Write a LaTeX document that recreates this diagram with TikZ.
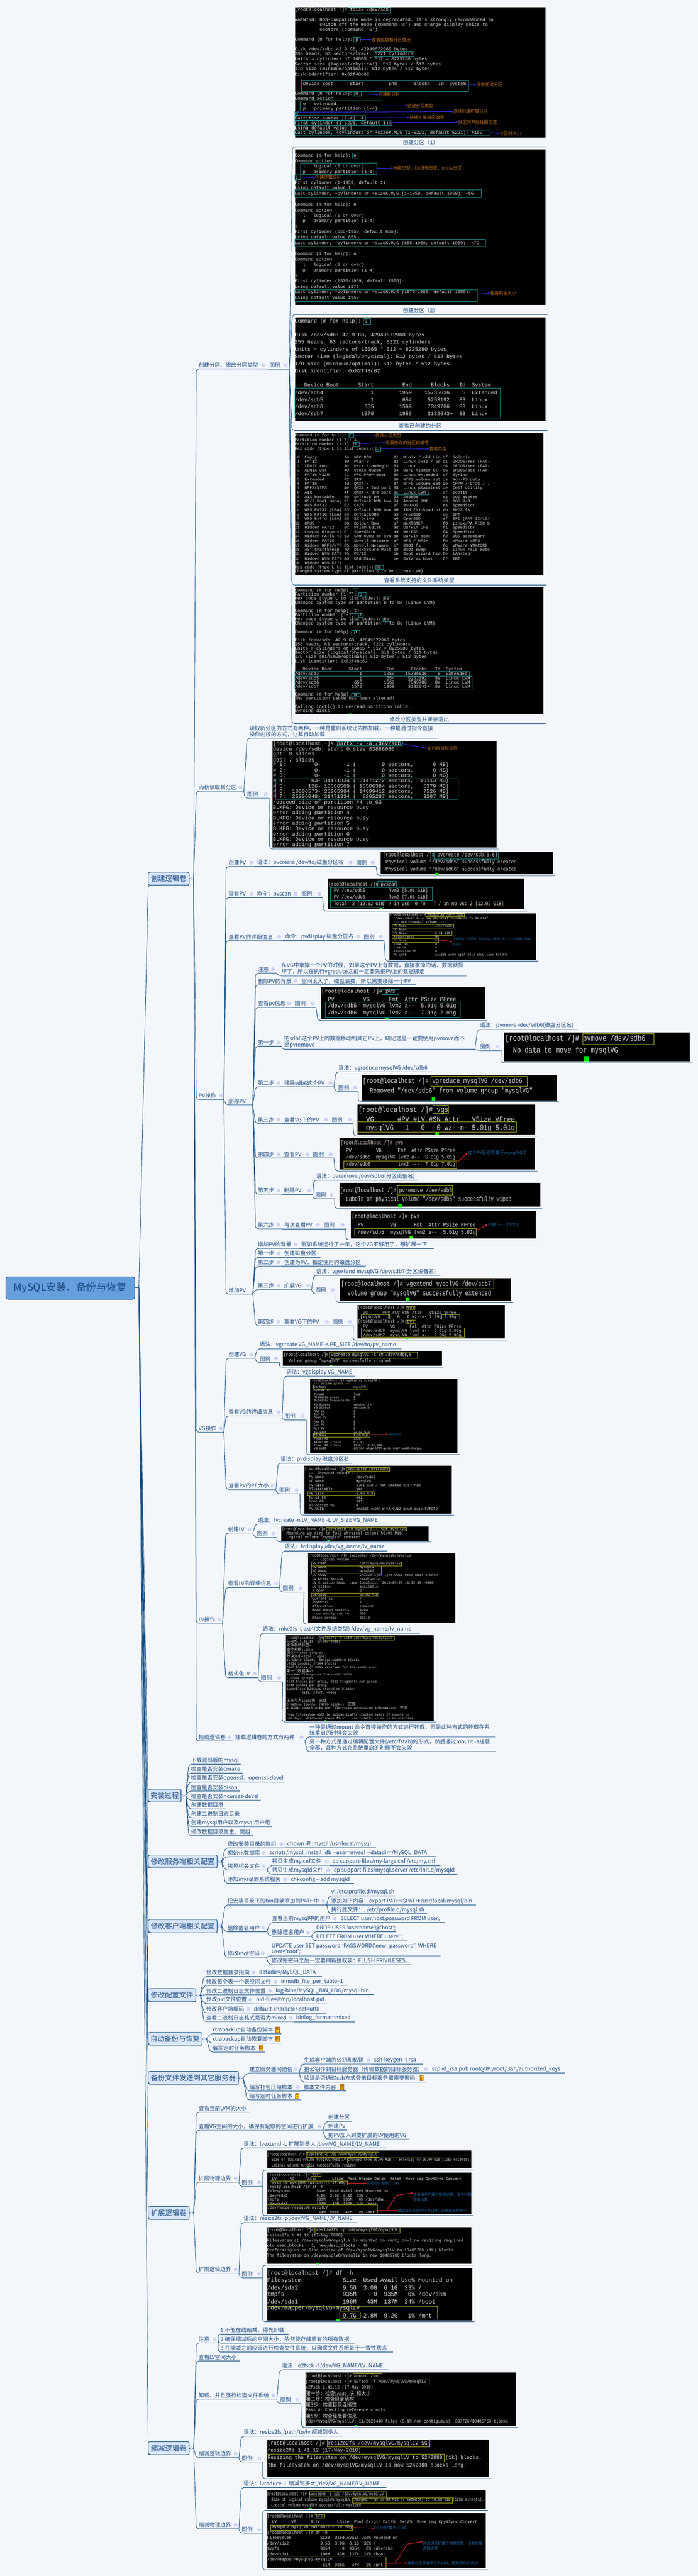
\documentclass[tikz,border=0pt]{standalone}
\usepackage{fontspec}
\usetikzlibrary{arrows.meta,calc}
\setmonofont{Liberation Mono}
\newfontfamily\tpfont{Noto Sans CJK SC}
\newfontfamily\zhfont[Scale=1.2]{Noto Sans CJK SC}
\definecolor{bgc}{HTML}{F3F6FB}
\definecolor{tc}{HTML}{1C4B82}
\definecolor{lnc}{HTML}{0F4C81}
\definecolor{rootf}{HTML}{659FDD}
\definecolor{lvf}{HTML}{D7E5F8}
\definecolor{termt}{HTML}{DADADA}
\definecolor{tealb}{HTML}{1A8F8F}
\definecolor{yelb}{HTML}{A8A820}
\definecolor{orl}{HTML}{C8761C}
\definecolor{bll}{HTML}{1F6FB5}
\definecolor{bar}{HTML}{3030E8}
\definecolor{rar}{HTML}{E02828}
\tikzset{
 zone/.style 2 args={x=0.59694pt,y=#1,yshift=#2},
 tptext/.style={anchor=west,inner sep=0pt,text=tc,font=\tpfont\fontsize{7.25}{8}\selectfont},
 tpmulti/.style={anchor=south west,inner sep=0pt,align=left,text=tc,font=\tpfont\fontsize{7.25}{8}\selectfont},
 captext/.style={inner sep=0pt,text=tc,font=\tpfont\fontsize{7.25}{8}\selectfont},
 link/.style={draw=lnc,line width=0.6pt,rounded corners=4pt},
 tline/.style={anchor=west,inner sep=0pt,text=termt,transform shape},
 tb/.style={draw=tealb,line width=0.55pt},
 yb/.style={draw=yelb,line width=0.55pt},
 annot/.style={anchor=west,inner sep=0pt,align=left},
 anno/.style={line width=0.7pt,-{Stealth[length=3pt,width=3pt]}},
 icondraw/.style={draw=black!0!blue!35!white,fill=lvf,line width=0.3pt},
 lvbox/.style={draw=lnc,fill=lvf,line width=0.6pt,rounded corners=2pt},
 lvtext/.style={inner sep=0pt,text=tc,font=\tpfont\fontsize{9.5}{11}\selectfont},
}
\newcount\tln
\newcount\nid
\newcommand\zz[1]{{\zhfont #1}}
\newcommand\tset[5]{\def\tX{#1}\def\tY{#2}\def\tD{#3}\pgfmathsetmacro\tXS{#4/#5}\def\tF{#5}\tln=0 }
\newcommand\TS{\advance\tln 1 }
\newcommand\TL{\begingroup\catcode`\ =12 \catcode`\#=12 \catcode`\%=12 \catcode`\_=12 \catcode`\&=12 \catcode`\^=12 \catcode`\$=12 \catcode`\~=12 \TLi}
\newcommand\TLi[1]{\endgroup\global\advance\nid 1 \path ({\tX},{\tY+\the\tln*\tD}) node[tline,xscale=\tXS,font=\ttfamily\fontsize{\tF}{\tF}\selectfont] (n\the\nid) {#1};\advance\tln 1 }
% topic: name x1 x2 y text
\newcommand\tp[5]{\coordinate (#1-l) at (#2,#4);\coordinate (#1-r) at (#3,#4);\path (#2,#4) ++(3pt,5.2pt) node[tptext] (#1) {#5};}
\newcommand\tpi[5]{\tp{#1}{#2}{#3}{#4}{#5}\draw[icondraw] (#3,#4) ++(-4.5pt,5.2pt) circle (2.1pt) ++(-1.2pt,0) -- ++(2.4pt,0);}
\newcommand\tpm[5]{\coordinate (#1-l) at (#2,#4);\coordinate (#1-r) at (#3,#4);\path (#2,#4) ++(3pt,1.6pt) node[tpmulti] (#1) {#5};}
\newcommand\note[2]{\fill[yellow!60!orange,draw=orange!70!black,line width=0.3pt] (#1,#2) ++(-2.4pt,-3.6pt) rectangle ++(4.8pt,7.2pt);\draw[orange!60!black,line width=0.3pt] (#1,#2) ++(-1.4pt,1.8pt) -- ++(2.8pt,0) ++(-2.8pt,-1.6pt) -- ++(2.8pt,0) ++(-2.8pt,-1.6pt) -- ++(2.8pt,0);}
% terminal image: name x1 y1 x2 y2 ux1 ux2 uy
\newcommand\tm[8]{\filldraw[fill=black,draw=white,line width=0.5pt] (#2,#3) rectangle (#4,#5);\coordinate (#1-l) at (#6,#8);\coordinate (#1-r) at (#7,#8);}
\newcommand\bx[5]{\draw[#1] (#2,#3) rectangle (#4,#5);}
\newcommand\cur[4]{\fill[green!90!black] (#1,#2) rectangle (#3,#4);}
% annotation: line colour, text colour, (start), (label), font size, text
\newcommand\ann[6]{\global\advance\nid 1 \coordinate (s\the\nid) at #3;\node[annot,text=#2,font=\tpfont\fontsize{#5}{7}\selectfont] (e\the\nid) at #4 {#6};\draw[anno,#1] (s\the\nid) -- (e\the\nid.west);}
% level one box: name x1 y1 x2 y2 text xtext
\newcommand\lv[6]{\draw[lvbox] (#2,#3) rectangle (#4,#5);\node[lvtext] (#1) at ($(#2,#3)!.5!(#4,#5)$) {#6};\coordinate (#1-l) at (#2,#5);\coordinate (#1-e) at (#4,#5);\coordinate (#1-m) at ($(#4,#3)!.5!(#4,#5)$);\coordinate (#1-r) at ($(#1-m)+(6pt,0)$);\draw[draw=lnc,line width=0.5pt] (#1-m) -- (#1-r);\draw[icondraw] ($(#1-m)+(3pt,0)$) circle (1.8pt);}
\newcommand\lk[2]{\draw[link] (#1-r) -- (#2-l) -- (#2-r);}
\newcommand\ch[2]{\draw[link] (#1-r) -- (#2-r);}
\newcommand\lkr[1]{\draw[link] (root-r) -- (#1-l) -- (#1-e);}
\begin{document}
\begin{tikzpicture}
\fill[bgc] (0,0) rectangle (936pt,-3454.5pt);
\useasboundingbox (0,0) rectangle (936pt,-3454.5pt);
%================ ZONE 1
\begin{scope}[zone={-0.36671pt}{0pt}]
\tpi{a1}{441}{600}{1349}{创建分区、修改分区类型}
\tpi{a1b}{600}{650}{1349}{图例}
\tm{i1}{662}{26}{1226}{503}{657}{1230}{537}
\tset{662}{37}{18}{6.17}{6.17}
\TL{[root@localhost ~]# fdisk /dev/sdb}\TS
\TL{WARNING: DOS-compatible mode is deprecated. It's strongly recommended to}
\TL{         switch off the mode (command 'c') and change display units to}
\TL{         sectors (command 'u').}\TS
\TL{Command (m for help): p}\TS
\TL{Disk /dev/sdb: 42.9 GB, 42949672960 bytes}
\TL{255 heads, 63 sectors/track, 5221 cylinders}
\TL{Units = cylinders of 16065 * 512 = 8225280 bytes}
\TL{Sector size (logical/physical): 512 bytes / 512 bytes}
\TL{I/O size (minimum/optimal): 512 bytes / 512 bytes}
\TL{Disk identifier: 0x82f48c62}\TS
\TL{   Device Boot      Start         End      Blocks   Id  System}\TS
\TL{Command (m for help): n}
\TL{Command action}
\TL{   e   extended}
\TL{   p   primary partition (1-4)}
\TL{e}
\TL{Partition number (1-4): 4}
\TL{First cylinder (1-5221, default 1):}
\TL{Using default value 1}
\TL{Last cylinder, +cylinders or +size{K,M,G} (1-5221, default 5221): +15G}
\bx{tb}{782}{27}{877}{47}\bx{tb}{794}{136}{810}{154}\bx{tb}{840}{187}{930}{207}\bx{tb}{678}{294}{1053}{335}\bx{tb}{796}{335}{812}{352}\bx{tb}{674}{368}{858}{405}\bx{tb}{662}{406}{670}{421}\bx{tb}{662}{423}{821}{440}\bx{tb}{662}{441}{880}{458}\bx{tb}{662}{476}{1101}{495}
\ann{bar}{orl}{(810,145)}{(835,145)}{5.8}{查看磁盘和分区情况}
\ann{bar}{orl}{(1053,308)}{(1070,309)}{5.8}{没有任何分区}
\ann{bar}{orl}{(812,343)}{(850,346)}{5.8}{创建新分区}
\ann{bar}{orl}{(858,387)}{(915,387)}{5.8}{创建分区类型}
\ann{bar}{orl}{(670,410)}{(1018,408)}{5.8}{选择创建扩展分区}
\ann{bar}{orl}{(821,431)}{(920,430)}{5.8}{选择扩展分区编号}
\ann{bar}{orl}{(880,448)}{(1029,447)}{5.8}{分区的开始柱面位置}
\ann{bar}{orl}{(1101,485)}{(1122,488)}{5.8}{分区的大小}
\node[captext] (c1) at (945,521) {创建分区（1）};
\tm{i2}{662}{545}{1226}{1116}{657}{1231}{1150}
\tset{662}{569}{20}{5.97}{5.97}
\TL{Command (m for help): n}
\TL{Command action}
\TL{   l   logical (5 or over)}
\TL{   p   primary partition (1-4)}
\TL{l}
\TL{First cylinder (1-1959, default 1):}
\TL{Using default value 1}
\TL{Last cylinder, +cylinders or +size{K,M,G} (1-1959, default 1959): +5G}\TS
\TL{Command (m for help): n}
\TL{Command action}
\TL{   l   logical (5 or over)}
\TL{   p   primary partition (1-4)}
\TL{l}
\TL{First cylinder (655-1959, default 655):}
\TL{Using default value 655}
\TL{Last cylinder, +cylinders or +size{K,M,G} (655-1959, default 1959): +7G}\TS
\TL{Command (m for help): n}
\TL{Command action}
\TL{   l   logical (5 or over)}
\TL{   p   primary partition (1-4)}
\TL{l}
\TL{First cylinder (1570-1959, default 1570):}
\TL{Using default value 1570}
\TL{Last cylinder, +cylinders or +size{K,M,G} (1570-1959, default 1959):}
\TL{Using default value 1959}
\bx{tb}{792}{560}{805}{579}\bx{tb}{675}{597}{847}{638}\bx{tb}{662}{640}{675}{657}\bx{tb}{662}{695}{1082}{722}\bx{tb}{662}{875}{1091}{902}\bx{tb}{662}{1060}{1072}{1103}
\ann{bar}{orl}{(847,615)}{(883,616)}{5.8}{分区类型，l为逻辑分区，p为主分区}
\ann{bar}{orl}{(675,648)}{(708,649)}{5.8}{创建逻辑分区}
\ann{bar}{orl}{(1072,1075)}{(1101,1073)}{5.8}{使用剩余大小}
\node[captext] (c2) at (945,1135) {创建分区（2）};
\tm{i3}{662}{1159}{1226}{1540}{656}{1230}{1574}
\tset{662}{1175}{26}{7.07}{7.07}
\TL{Command (m for help): p}\TS
\TL{Disk /dev/sdb: 42.9 GB, 42949672960 bytes}
\TL{255 heads, 63 sectors/track, 5221 cylinders}
\TL{Units = cylinders of 16065 * 512 = 8225280 bytes}
\TL{Sector size (logical/physical): 512 bytes / 512 bytes}
\TL{I/O size (minimum/optimal): 512 bytes / 512 bytes}
\TL{Disk identifier: 0x82f48c62}\TS
\TL{   Device Boot      Start         End      Blocks   Id  System}
\TL{/dev/sdb4               1        1959    15735636    5  Extended}
\TL{/dev/sdb5               1         654     5253192   83  Linux}
\TL{/dev/sdb6             655        1569     7349706   83  Linux}
\TL{/dev/sdb7            1570        1959     3132643+  83  Linux}
\bx{tb}{816}{1166}{833}{1185}\bx{tb}{662}{1420}{1124}{1528}
\node[captext] (c3) at (944,1558) {查看已创建的分区};
\end{scope}
%================ ZONE 2
\begin{scope}[zone={-0.36671pt}{-575pt}]
\tm{i4}{662}{15}{1222}{537}{656}{1228}{571}
\tset{662}{25}{16.06}{5.52}{5.52}
\TL{Command (m for help): t}
\TL{Partition number (1-7): 1}
\TL{Partition number (1-7): 5}
\TL{Hex code (type L to list codes): L}\TS
\TL{ 0  Empty           24  NEC DOS         81  Minix / old Lin bf  Solaris}
\TL{ 1  FAT12           39  Plan 9          82  Linux swap / So c1  DRDOS/sec (FAT-}
\TL{ 2  XENIX root      3c  PartitionMagic  83  Linux           c4  DRDOS/sec (FAT-}
\TL{ 3  XENIX usr       40  Venix 80286     84  OS/2 hidden C:  c6  DRDOS/sec (FAT-}
\TL{ 4  FAT16 <32M      41  PPC PReP Boot   85  Linux extended  c7  Syrinx}
\TL{ 5  Extended        42  SFS             86  NTFS volume set da  Non-FS data}
\TL{ 6  FAT16           4d  QNX4.x          87  NTFS volume set db  CP/M / CTOS / .}
\TL{ 7  HPFS/NTFS       4e  QNX4.x 2nd part 88  Linux plaintext de  Dell Utility}
\TL{ 8  AIX             4f  QNX4.x 3rd part 8e  Linux LVM       df  BootIt}
\TL{ 9  AIX bootable    50  OnTrack DM      93  Amoeba          e1  DOS access}
\TL{ a  OS/2 Boot Manag 51  OnTrack DM6 Aux 94  Amoeba BBT      e3  DOS R/O}
\TL{ b  W95 FAT32       52  CP/M            9f  BSD/OS          e4  SpeedStor}
\TL{ c  W95 FAT32 (LBA) 53  OnTrack DM6 Aux a0  IBM Thinkpad hi eb  BeOS fs}
\TL{ e  W95 FAT16 (LBA) 54  OnTrackDM6      a5  FreeBSD         ee  GPT}
\TL{ f  W95 Ext'd (LBA) 55  EZ-Drive        a6  OpenBSD         ef  EFI (FAT-12/16/}
\TL{10  OPUS            56  Golden Bow      a7  NeXTSTEP        f0  Linux/PA-RISC b}
\TL{11  Hidden FAT12    5c  Priam Edisk     a8  Darwin UFS      f1  SpeedStor}
\TL{12  Compaq diagnost 61  SpeedStor       a9  NetBSD          f4  SpeedStor}
\TL{14  Hidden FAT16 <3 63  GNU HURD or Sys ab  Darwin boot     f2  DOS secondary}
\TL{16  Hidden FAT16    64  Novell Netware  af  HFS / HFS+      fb  VMware VMFS}
\TL{17  Hidden HPFS/NTF 65  Novell Netware  b7  BSDI fs         fc  VMware VMKCORE}
\TL{18  AST SmartSleep  70  DiskSecure Mult b8  BSDI swap       fd  Linux raid auto}
\TL{1b  Hidden W95 FAT3 75  PC/IX           bb  Boot Wizard hid fe  LANstep}
\TL{1c  Hidden W95 FAT3 80  Old Minix       be  Solaris boot    ff  BBT}
\TL{1e  Hidden W95 FAT1}
\TL{Hex code (type L to list codes): 8e}
\TL{Changed system type of partition 5 to 8e (Linux LVM)}
\bx{tb}{784}{18}{794}{33}\bx{tb}{795}{50}{807}{65}\bx{tb}{844}{66}{856}{81}\bx{tb}{885}{226}{963}{242}\bx{tb}{844}{500}{862}{514}
\ann{bar}{orl}{(794,24)}{(843,24)}{5.8}{修改分区类型}
\ann{bar}{orl}{(807,54)}{(866,51)}{5.8}{需要修改的分区的编号}
\ann{bar}{orl}{(856,72)}{(964,74)}{5.8}{查看类型}
\node[captext] (c4) at (942,555) {查看系统支持的文件系统类型};
\tm{i5}{662}{578}{1222}{1044}{656}{1226}{1078}
\tset{662}{591}{15.25}{6.03}{6.03}
\TL{Command (m for help): t}
\TL{Partition number (1-7): 6}
\TL{Hex code (type L to list codes): 8e}
\TL{Changed system type of partition 6 to 8e (Linux LVM)}\TS
\TL{Command (m for help): t}
\TL{Partition number (1-7): 7}
\TL{Hex code (type L to list codes): 8e}
\TL{Changed system type of partition 7 to 8e (Linux LVM)}\TS
\TL{Command (m for help): p}\TS
\TL{Disk /dev/sdb: 42.9 GB, 42949672960 bytes}
\TL{255 heads, 63 sectors/track, 5221 cylinders}
\TL{Units = cylinders of 16065 * 512 = 8225280 bytes}
\TL{Sector size (logical/physical): 512 bytes / 512 bytes}
\TL{I/O size (minimum/optimal): 512 bytes / 512 bytes}
\TL{Disk identifier: 0x82f48c62}\TS
\TL{   Device Boot      Start         End      Blocks   Id  System}
\TL{/dev/sdb4               1        1959    15735636    5  Extended}
\TL{/dev/sdb5               1         654     5253192   8e  Linux LVM}
\TL{/dev/sdb6             655        1569     7349706   8e  Linux LVM}
\TL{/dev/sdb7            1570        1959     3132643+  8e  Linux LVM}\TS
\TL{Command (m for help): w}
\TL{The partition table has been altered!}\TS
\TL{Calling ioctl() to re-read partition table.}
\TL{Syncing disks.}
\bx{tb}{793}{585}{805}{598}\bx{tb}{806}{600}{822}{614}\bx{tb}{862}{614}{878}{629}\bx{tb}{793}{660}{805}{674}\bx{tb}{806}{676}{816}{690}\bx{tb}{860}{691}{878}{705}\bx{tb}{790}{736}{808}{754}\bx{tb}{662}{888}{1055}{904}\bx{tb}{662}{905}{1061}{952}\bx{tb}{790}{966}{810}{980}
\cur{782}{1041}{790}{1044}
\node[captext] (c5) at (942,1063) {修改分区类型并保存退出};
\end{scope}
%================ ZONE 3
\begin{scope}[zone={-0.36671pt}{-975pt}]
\lv{b1}{333}{531}{425}{578}{创建逻辑卷}
\tpi{a2}{441}{548}{235}{内核读取新分区}
\tpm{a2a}{555}{983}{41}{读取新分区的方式有两种，一种是重启系统让内核加载，一种是通过指令直接\\操作内核的方式，让其自动加载}
\tpi{a2b}{550}{605}{260}{图例}
\tm{i6}{611}{49}{1116}{442}{606}{1120}{446}
\tset{613}{61}{19.5}{7.15}{7.15}
\TL{[root@localhost ~]# partx -v -a /dev/sdb}
\TL{device /dev/sdb: start 0 size 83886080}
\TL{gpt: 0 slices}
\TL{dos: 7 slices}
\TL{# 1:         0-       -1 (        0 sectors,      0 MB)}
\TL{# 2:         0-       -1 (        0 sectors,      0 MB)}
\TL{# 3:         0-       -1 (        0 sectors,      0 MB)}
\TL{# 4:        63- 31471334 ( 31471272 sectors,  16113 MB)}
\TL{# 5:       126- 10506509 ( 10506384 sectors,   5379 MB)}
\TL{# 6:  10506573- 25205984 ( 14699412 sectors,   7526 MB)}
\TL{# 7:  25206048- 31471334 (  6265287 sectors,   3207 MB)}
\TL{reduced size of partition #4 to 63}
\TL{BLKPG: Device or resource busy}
\TL{error adding partition 4}
\TL{BLKPG: Device or resource busy}
\TL{error adding partition 5}
\TL{BLKPG: Device or resource busy}
\TL{error adding partition 6}
\TL{BLKPG: Device or resource busy}
\TL{error adding partition 7}
\bx{tb}{755}{53}{904}{69}\bx{tb}{620}{188}{1029}{265}
\ann{bar}{orl}{(905,61)}{(960,77)}{5.8}{让内核读取分区}
\tpi{a3}{441}{503}{1362}{PV操作}
\tpi{p1}{508}{572}{510}{创建PV}
\tpi{p1a}{572}{795}{510}{语法：pvcreate /dev/to/磁盘分区名}
\tpi{p1b}{795}{845}{510}{图例}
\tm{ip1}{855}{454}{1243}{540}{848}{1247}{544}
\tset{860}{468}{26}{6.1}{7.5}
\TL{[root@localhost /]# pvcreate /dev/sdb[5,6]}
\TL{ Physical volume "/dev/sdb5" successfully created}
\TL{ Physical volume "/dev/sdb6" successfully created}
\bx{tb}{975}{457}{1120}{482}\cur{978}{533}{985}{540}
\tpi{p2}{508}{572}{624}{查看PV}
\tpi{p2a}{572}{672}{624}{命令：pvscan}
\tpi{p2b}{672}{725}{624}{图例}
\tm{ip2}{735}{553}{1179}{667}{727}{1184}{673}
\tset{738}{575}{24}{5.85}{7}
\TL{[root@localhost /]# pvscan}
\TL{  PV /dev/sdb5         lvm2 [5.01 GiB]}
\TL{  PV /dev/sdb6         lvm2 [7.01 GiB]}
\TL{  Total: 2 [12.02 GiB] / in use: 0 [0   ] / in no VG: 2 [12.02 GiB]}
\bx{tb}{849}{563}{890}{587}\bx{tb}{742}{587}{971}{633}\bx{tb}{742}{635}{862}{659}\cur{853}{660}{859}{667}
\tpi{p3}{508}{635}{781}{查看PV的详细信息}
\tpi{p3a}{635}{812}{781}{命令：pvdisplay 磁盘分区名}
\tpi{p3b}{812}{863}{781}{图例}
\tm{ip3}{874}{680}{1205}{852}{866}{1210}{856}
\tset{875}{688}{13.2}{4.24}{4.24}
\TL{[root@localhost /]# pvdisplay /dev/sdb5}
\TL{  "/dev/sdb5" is a new physical volume of "5.01 GiB"}
\TL{  --- NEW Physical volume ---}
\TL{  PV Name               /dev/sdb5}
\TL{  VG Name}
\TL{  PV Size               5.01 GiB}
\TL{  Allocatable           NO}
\TL{  PE Size               0}
\TL{  Total PE              0}
\TL{  Free PE               0}
\TL{  Allocated PE          0}
\TL{  PV UUID               znaBd5-evkU-ojtA-9JiZ-bNwU-sxak-F2fDFD}
\bx{yb}{957}{682}{1043}{694}\bx{yb}{881}{721}{1019}{735}\bx{yb}{881}{747}{1015}{761}\bx{yb}{881}{773}{985}{787}
\ann{rar}{bll}{(985,778)}{(1017,785)}{3.8}{只有把PV（物理卷）加入到VG（卷组）中，它才知道自己的PE\\有多大}
\tp{p4}{508}{568}{1382}{删除PV}
\tpi{d1}{574}{621}{900}{注意}
\tpm{d1a}{627}{1050}{910}{从VG中拿掉一个PV的时候，如果这个PV上有数据，直接拿掉的话，数据就损\\坏了，所以在执行vgreduce之前一定要先把PV上的数据挪走}
\tpi{d2}{574}{672}{943}{删除PV的背景}
\tp{d2a}{672}{935}{943}{空间太大了，磁盘浪费，所以需要移除一个PV}
\tpi{d3}{574}{657}{1025}{查看pv信息}
\tpi{d3b}{657}{710}{1025}{图例}
\tm{id3}{720}{950}{1091}{1069}{714}{1095}{1073}
\tset{722}{968}{26.3}{7.17}{7.8}
\TL{[root@localhost /]# pvs}
\TL{  PV         VG      Fmt  Attr PSize PFree}
\TL{  /dev/sdb5  mysqlVG lvm2 a--  5.01g 5.01g}
\TL{  /dev/sdb6  mysqlVG lvm2 a--  7.01g 7.01g}
\bx{tb}{858}{959}{896}{979}\bx{tb}{731}{1007}{1034}{1061}\cur{866}{1063}{873}{1069}
\tpi{d4}{574}{633}{1167}{第一步}
\tpm{d4a}{633}{1067}{1178}{把sdb6这个PV上的数据移动到其它PV上，切记这里一定要使用pvmove而不\\是pvremove}
\tp{d4b}{1073}{1298}{1106}{语法：pvmove /dev/sdb6(磁盘分区名)}
\tpi{d4c}{1073}{1126}{1183}{图例}
\tm{id4}{1131}{1116}{1550}{1223}{1125}{1555}{1228}
\tset{1135}{1140}{43}{8.7}{11}
\TL{[root@localhost /]# pvmove /dev/sdb6}
\TL{  No data to move for mysqlVG}
\bx{yb}{1310}{1122}{1469}{1160}\cur{1313}{1204}{1323}{1223}
\tpi{d5}{574}{633}{1316}{第二步}
\tpi{d5a}{633}{750}{1316}{移除sdb6这个PV}
\tp{d5b}{755}{970}{1261}{语法：vgreduce mysqlVG /dev/sdb6}
\tpi{d5c}{755}{805}{1333}{图例}
\tm{id5}{813}{1272}{1251}{1366}{805}{1255}{1370}
\tset{815}{1295}{37}{7.75}{9.5}
\TL{[root@localhost /]# vgreduce mysqlVG /dev/sdb6}
\TL{  Removed "/dev/sdb6" from volume group "mysqlVG"}
\bx{yb}{968}{1277}{1184}{1313}\cur{970}{1352}{978}{1366}
\tpi{d6}{574}{633}{1450}{第三步}
\tpi{d6a}{633}{740}{1450}{查看VG下的PV}
\tpi{d6b}{740}{793}{1450}{图例}
\tm{id6}{803}{1379}{1203}{1490}{795}{1207}{1496}
\tset{805}{1400}{33}{8.75}{10}
\TL{[root@localhost /]# vgs}
\TL{  VG      #PV #LV #SN Attr   VSize VFree}
\TL{  mysqlVG   1   0   0 wz--n- 5.01g 5.01g}
\bx{yb}{973}{1384}{1007}{1414}\bx{yb}{801}{1444}{1160}{1482}\cur{978}{1483}{986}{1490}
\end{scope}
%================ ZONE 4
\begin{scope}[zone={-0.31888pt}{-1525pt}]
\draw[draw=lnc,fill=rootf,line width=0.6pt,rounded corners=3pt] (13,587) rectangle (303,682);
\node[inner sep=0pt,text=tc,font=\tpfont\fontsize{13.5}{15}\selectfont] (root) at (158,634) {MySQL安装、备份与恢复};
\coordinate (root-m) at (303,634);\coordinate (root-r) at (312,634);
\draw[draw=lnc,line width=0.6pt] (root-m) -- (root-r);
\tpi{d7}{574}{633}{88}{第四步}
\tpi{d7a}{633}{698}{88}{查看PV}
\tpi{d7b}{698}{750}{88}{图例}
\tm{id7}{762}{3}{1202}{137}{753}{1207}{143}
\tset{765}{25}{30.5}{6.1}{7.5}
\TL{[root@localhost /]# pvs}
\TL{  PV         VG      Fmt  Attr PSize PFree}
\TL{  /dev/sdb5  mysqlVG lvm2 a--  5.01g 5.01g}
\TL{  /dev/sdb6          lvm2 ---  7.01g 7.01g}
\bx{yb}{773}{100}{1026}{131}\cur{886}{132}{892}{137}
\ann{rar}{bll}{(1026,108)}{(1050,66)}{6}{这个PV已经不属于mysqlVG了}
\tpi{d8}{574}{633}{240}{第五步}
\tpi{d8a}{633}{703}{240}{删除PV}
\tp{d8b}{705}{940}{181}{语法：pvremove /dev/sdb6(分区设备名)}
\tpi{d8c}{703}{752}{259}{图例}
\tm{id8}{762}{191}{1214}{293}{752}{1218}{299}
\tset{764}{224}{38}{6.6}{9}
\TL{[root@localhost /]# pvremove /dev/sdb6}
\TL{  Labels on physical volume "/dev/sdb6" successfully wiped}
\bx{yb}{893}{204}{1017}{243}\cur{895}{281}{903}{293}
\tpi{d9}{574}{633}{385}{第六步}
\tpi{d9a}{633}{722}{385}{再次查看PV}
\tpi{d9b}{722}{777}{385}{图例}
\tm{id9}{787}{310}{1204}{426}{778}{1209}{432}
\tset{790}{334}{33.5}{6.6}{8}
\TL{[root@localhost /]# pvs}
\TL{  PV         VG      Fmt  Attr PSize PFree}
\TL{  /dev/sdb5  mysqlVG lvm2 a--  5.01g 5.01g}
\bx{yb}{797}{384}{1070}{417}\cur{920}{418}{927}{426}
\ann{rar}{bll}{(1070,392)}{(1095,368)}{6}{只剩下一个PV了}
\tp{p5}{508}{568}{660}{增加PV}
\tpi{e1}{574}{672}{468}{增加PV的背景}
\tp{e1a}{672}{974}{468}{假如系统运行了一年，这个VG不够用了，想扩展一下}
\tpi{e2}{574}{633}{505}{第一步}
\tp{e2a}{633}{720}{505}{创建磁盘分区}
\tpi{e3}{574}{633}{543}{第二步}
\tp{e3a}{633}{822}{543}{创建为PV，指定使用的磁盘分区}
\tpi{e4}{574}{633}{640}{第三步}
\tpi{e4a}{633}{700}{640}{扩展VG}
\tp{e4b}{705}{990}{581}{语法：vgextend mysqlVG /dev/sdb7(分区设备名)}
\tpi{e4c}{703}{755}{659}{图例}
\tm{ie4}{763}{592}{1149}{690}{755}{1153}{696}
\tset{766}{618}{39}{7.3}{9.5}
\TL{[root@localhost /]# vgextend mysqlVG /dev/sdb7}
\TL{  Volume group "mysqlVG" successfully extended}
\bx{yb}{908}{597}{1109}{638}\cur{912}{676}{920}{690}
\tpi{e5}{574}{633}{793}{第四步}
\tpi{e5a}{633}{742}{793}{查看VG下的PV}
\tpi{e5b}{742}{794}{793}{图例}
\tm{ie5}{802}{705}{1135}{848}{793}{1139}{853}
\tset{804}{717}{19.5}{5.5}{5.8}
\TL{[root@localhost /]# vgs}
\TL{  VG      #PV #LV #SN Attr   VSize VFree}
\TL{  mysqlVG   2   0   0 wz--n- 7.99g 7.99g}
\TL{[root@localhost /]# pvs}
\TL{  PV         VG      Fmt  Attr PSize PFree}
\TL{  /dev/sdb5  mysqlVG lvm2 a--  5.01g 5.01g}
\TL{  /dev/sdb7  mysqlVG lvm2 a--  2.98g 2.98g}
\bx{yb}{912}{710}{932}{724}\bx{yb}{812}{746}{875}{765}\bx{yb}{992}{745}{1033}{766}\bx{yb}{911}{769}{934}{782}\bx{yb}{812}{801}{1043}{841}\cur{912}{843}{918}{848}
\tpi{a4}{441}{503}{1241}{VG操作}
\tpi{v1}{508}{572}{930}{创建VG}
\tp{v1a}{578}{902}{890}{语法：vgcreate VG\_NAME -s PE\_SIZE /dev/to/pv\_name}
\tpi{v1b}{578}{628}{948}{图例}
\tm{iv1}{635}{898}{993}{962}{627}{997}{967}
\tset{637}{917}{26}{5.3}{6.5}
\TL{[root@localhost /]# vgcreate mysqlVG -s 8M /dev/sdb{5,6}}
\TL{  Volume group "mysqlVG" successfully created}
\bx{yb}{740}{903}{938}{930}\cur{741}{957}{747}{962}
\tpi{v2}{508}{634}{1172}{查看VG的详细信息}
\tp{v2a}{638}{798}{1005}{语法：vgdisplay VG\_NAME}
\tpi{v2b}{634}{688}{1189}{图例}
\tm{iv2}{696}{1014}{1028}{1330}{688}{1033}{1335}
\tset{697}{1023}{14.4}{4.02}{4.2}
\TL{[root@localhost /]# vgdisplay mysqlVG}
\TL{  --- Volume group ---}
\TL{  VG Name               mysqlVG}
\TL{  System ID}
\TL{  Format                lvm2}
\TL{  Metadata Areas        2}
\TL{  Metadata Sequence No  1}
\TL{  VG Access             read/write}
\TL{  VG Status             resizable}
\TL{  MAX LV                0}
\TL{  Cur LV                0}
\TL{  Open LV               0}
\TL{  Max PV                0}
\TL{  Cur PV                2}
\TL{  Act PV                2}
\TL{  VG Size               12.02 GiB}
\TL{  PE Size               8.00 MiB}
\TL{  Total PE              1538}
\TL{  Alloc PE / Size       0 / 0}
\TL{  Free  PE / Size       1538 / 12.02 GiB}
\TL{  VG UUID               LJffAJ-mAgW-lP5M-pnXq-0mUF-ss9O-tnmJpp}
\bx{yb}{704}{1043}{827}{1060}\bx{yb}{775}{1016}{853}{1030}\bx{yb}{704}{1246}{832}{1261}
\ann{rar}{bll}{(832,1250)}{(872,1250)}{3.8}{默认为4M}
\tpi{v3}{508}{620}{1482}{查看PV的PE大小}
\tp{v3a}{625}{790}{1371}{语法：pvdisplay 磁盘分区名}
\tpi{v3b}{622}{674}{1500}{图例}
\tm{iv3}{683}{1381}{1015}{1585}{675}{1020}{1590}
\tset{684}{1396}{17}{4.8}{5}
\TL{[root@localhost /]# pvdisplay /dev/sdb5}
\TL{  --- Physical volume ---}
\TL{  PV Name               /dev/sdb5}
\TL{  VG Name               mysqlVG}
\TL{  PV Size               5.01 GiB / not usable 2.57 MiB}
\TL{  Allocatable           yes}
\TL{  PE Size               8.00 MiB}
\TL{  Total PE              641}
\TL{  Free PE               641}
\TL{  Allocated PE          0}
\TL{  PV UUID               znaBd5-evkU-ojtA-9JiZ-bNwU-sxak-F2fDFD}
\bx{yb}{778}{1388}{875}{1405}\bx{yb}{692}{1490}{841}{1507}
\end{scope}
%================ ZONE 5
\begin{scope}[zone={-0.31888pt}{-2025pt}]
\tpi{a5}{441}{500}{476}{LV操作}
\tpi{l1}{507}{568}{97}{创建LV}
\tp{l1a}{574}{870}{59}{语法：lvcreate -n LV\_NAME -L LV\_SIZE  VG\_NAME}
\tpi{l1b}{572}{622}{116}{图例}
\tm{il1}{631}{68}{963}{130}{622}{967}{134}
\tset{633}{80}{18.2}{5.15}{5.6}
\TL{[root@localhost /]# lvcreate -n mysqlLV -L 50M mysqlVG}
\TL{  Rounding up size to full physical extent 56.00 MiB}
\TL{  Logical volume "mysqlLV" created}
\bx{yb}{733}{72}{914}{88}\cur{735}{125}{741}{130}
\tpi{l2}{507}{628}{326}{查看LV的详细信息}
\tp{l2a}{634}{870}{172}{语法：lvdisplay /dev/vg\_name/lv\_name}
\tpi{l2b}{630}{683}{345}{图例}
\tm{il2}{691}{181}{1023}{475}{682}{1027}{480}
\tset{692}{193}{16.3}{4.6}{4.8}
\TL{[root@localhost /]# lvdisplay /dev/mysqlVG/mysqlLV}
\TL{  --- Logical volume ---}
\TL{  LV Path                /dev/mysqlVG/mysqlLV}
\TL{  LV Name                mysqlLV}
\TL{  VG Name                mysqlVG}
\TL{  LV UUID                CMJzOW-1j9x-ljAY-UUb2-9zlk-WbzT-5POFkh}
\TL{  LV Write Access        read/write}
\TL{  LV Creation host, time localhost, 2015-05-28 18:35:45 +0800}
\TL{  LV Status              available}
\TL{  # open                 0}
\TL{  LV Size                56.00 MiB}
\TL{  Current LE             7}
\TL{  Segments               1}
\TL{  Allocation             inherit}
\TL{  Read ahead sectors     auto}
\TL{  - currently set to     256}
\TL{  Block device           253:0}
\bx{yb}{699}{217}{902}{234}\bx{yb}{699}{234}{857}{267}\bx{yb}{699}{349}{851}{364}
\tpi{l3}{507}{580}{705}{格式化LV}
\tp{l3a}{585}{943}{518}{语法：mke2fs -t ext4(文件系统类型)  /dev/vg\_name/lv\_name}
\tpi{l3b}{581}{635}{722}{图例}
\tm{il3}{642}{526}{975}{887}{634}{979}{891}
\tset{643}{539}{15.37}{4.3}{4.5}
\TL{[root@localhost /]# mke2fs -t ext4 /dev/mysqlVG/mysqlLV}
\TL{mke2fs 1.41.12 (17-May-2010)}
\TL{\zz{文件系统标签}=}
\TL{\zz{操作系统}:Linux}
\TL{\zz{块大小}=1024 (log=0)}
\TL{\zz{分块大小}=1024 (log=0)}
\TL{Stride=0 blocks, Stripe width=0 blocks}
\TL{14336 inodes, 57344 blocks}
\TL{2867 blocks (5.00%) reserved for the super user}
\TL{\zz{第一个数据块}=1}
\TL{Maximum filesystem blocks=58720256}
\TL{7 block groups}
\TL{8192 blocks per group, 8192 fragments per group}
\TL{2048 inodes per group}
\TL{Superblock backups stored on blocks:}
\TL{        8193, 24577, 40961}\TS
\TL{\zz{正在写入}inode\zz{表}: \zz{完成}}
\TL{Creating journal (4096 blocks): \zz{完成}}
\TL{Writing superblocks and filesystem accounting information: \zz{完成}}\TS
\TL{This filesystem will be automatically checked every 27 mounts or}
\TL{180 days, whichever comes first.  Use tune2fs -c or -i to override.}
\bx{yb}{727}{532}{886}{546}\cur{728}{884}{734}{887}
\tpi{a6}{441}{523}{971}{挂载逻辑卷}
\tpi{a6a}{523}{685}{971}{挂载逻辑卷的方式有两种}
\tpm{a6b}{690}{1112}{954}{一种是通过mount 命令直接操作的方式进行挂载，但是此种方式的挂载在系\\统重启的时候会失效}
\tpm{a6c}{690}{1114}{1016}{另一种方式是通过编辑配置文件(/etc/fstab)的形式，然后通过mount -a挂载\\全部，此种方式在系统重启的时候不会失效}
\lv{b2}{333}{1174}{407}{1228}{安装过程}
\tp{s1}{424}{541}{1069}{下载源码版的mysql}
\tp{s2}{424}{545}{1106}{检查是否安装cmake}
\tp{s3}{424}{640}{1144}{检查是否安装openssl、openssl-devel}
\tp{s4}{424}{539}{1182}{检查是否安装bison}
\tp{s5}{424}{586}{1220}{检查是否安装ncurses-devel}
\tp{s6}{424}{508}{1257}{创建数据目录}
\tp{s7}{424}{545}{1294}{创建二进制日志目录}
\tp{s8}{424}{611}{1332}{创建mysql用户以及mysql用户组}
\tp{s9}{424}{569}{1369}{修改数据目录属主、属组}
\lv{b3}{333}{1451}{488}{1505}{修改服务端相关配置}
\tpi{t1}{506}{640}{1421}{修改安装目录的数组}
\tp{t1a}{640}{845}{1421}{chown -R :mysql /usr/local/mysql}
\tpi{t2}{506}{600}{1458}{初始化数据库}
\tp{t2a}{600}{980}{1458}{scripts/mysql\_install\_db --user=mysql --datadir=/MySQL\_DATA}
\tpi{t3}{506}{600}{1514}{拷贝相关文件}
\tpi{t3a}{606}{742}{1495}{拷贝生成my.cnf文件}
\tp{t3b}{742}{990}{1495}{cp support-files/my-large.cnf /etc/my.cnf}
\tpi{t3c}{606}{745}{1532}{拷贝生成mysqld文件}
\tp{t3d}{745}{1028}{1532}{cp support-files/mysql.server /etc/init.d/mysqld}
\tpi{t4}{506}{648}{1570}{添加mysql到系统服务}
\tp{t4a}{648}{795}{1570}{chkconfig --add mysqld}
\end{scope}
%================ ZONE 6
\begin{scope}[zone={-0.31888pt}{-2500pt}]
\lv{b4}{333}{233}{488}{288}{修改客户端相关配置}
\tpi{u1}{506}{734}{171}{把安装目录下的bin目录添加到PATH中}
\tp{u1a}{739}{890}{133}{vi /etc/profile.d/mysql.sh}
\tp{u1b}{739}{1070}{171}{添加如下内容：export PATH=\$PATH:/usr/local/mysql/bin}
\tp{u1c}{739}{960}{208}{执行此文件：. /etc/profile.d/mysql.sh}
\tpi{u2}{506}{600}{284}{删除匿名用户}
\tpi{u2a}{606}{760}{245}{查看当前mysql中的用户}
\tp{u2b}{760}{1000}{245}{SELECT user,host,password FROM user;}
\tpi{u2c}{606}{700}{303}{删除匿名用户}
\tp{u2d}{705}{890}{284}{DROP USER 'username'@'host';}
\tp{u2e}{705}{915}{322}{DELETE FROM user WHERE user='';}
\tpi{u3}{506}{598}{391}{修改root密码}
\tpm{u3a}{605}{990}{385}{UPDATE user SET password=PASSWORD('new\_password') WHERE\\user='root';}
\tp{u3b}{605}{925}{423}{修改完密码之后一定要刷新授权表：FLUSH PRIVILEGES;}
\lv{b5}{333}{523}{440}{578}{修改配置文件}
\tpi{w1}{458}{577}{472}{修改数据目录指向}
\tp{w1a}{577}{723}{472}{datadir=/MySQL\_DATA}
\tpi{w2}{458}{626}{510}{修改每个表一个表空间文件}
\tp{w2a}{626}{780}{510}{innodb\_file\_per\_table=1}
\tpi{w3}{458}{614}{549}{修改二进制日志文件位置}
\tp{w3a}{614}{840}{549}{log-bin=/MySQL\_BIN\_LOG/mysql-bin}
\tpi{w4}{458}{570}{586}{修改pid文件位置}
\tp{w4a}{570}{735}{586}{pid-file=/tmp/localhost.pid}
\tpi{w5}{458}{565}{625}{修改客户端编码}
\tp{w5a}{565}{733}{625}{default-character-set=utf8}
\tpi{w6}{458}{660}{662}{查看二进制日志格式是否为mixed}
\tp{w6a}{660}{797}{662}{binlog\_format=mixed}
\lv{b6}{333}{707}{454}{761}{自动备份与恢复}
\tp{x1}{472}{632}{713}{xtrabackup自动备份脚本}\note{623}{696}
\tp{x2}{472}{634}{752}{xtrabackup自动恢复脚本}\note{623}{734}
\tp{x3}{472}{596}{790}{编写定时任务脚本}\note{586}{771}
\lv{b7}{333}{871}{536}{925}{备份文件发送到其它服务器}
\tpi{y1}{555}{672}{878}{建立服务器间通信}
\tpi{y1a}{678}{835}{840}{生成客户端的公钥和私钥}
\tp{y1b}{835}{950}{840}{ssh-keygen -t rsa}
\tpi{y1c}{678}{965}{878}{把公钥传到目标服务器（传输数据的目标服务器）}
\tp{y1d}{965}{1270}{878}{scp id\_rsa.pub root@IP:/root/.ssh/authorized\_keys}
\tp{y1e}{678}{957}{916}{验证是否通过ssh方式登录目标服务器需要密码}\note{947}{899}
\tpi{y2}{555}{677}{954}{编写打包压缩脚本}
\tp{y2a}{677}{778}{954}{脚本文件内容}\note{768}{936}
\tp{y3}{555}{677}{991}{编写定时任务脚本}\note{668}{974}
\lv{b8}{333}{1439}{425}{1494}{扩展逻辑卷}
\tp{g1}{441}{560}{1043}{查看当前LVM的大小}
\tpi{g2}{441}{725}{1119}{查看VG空间的大小，确保有足够的空间进行扩展}
\tp{g2a}{732}{790}{1081}{创建分区}
\tp{g2b}{732}{780}{1118}{创建PV}
\tp{g2c}{732}{920}{1156}{把PV加入到要扩展的LV使用的VG}
\tpi{g3}{441}{537}{1337}{扩展物理边界}
\tp{g3a}{542}{868}{1193}{语法：lvextend -L 扩展到多大 /dev/VG\_NAME/LV\_NAME}
\tpi{g3b}{538}{590}{1355}{图例}
\tm{ig3}{600}{1203}{1060}{1279}{590}{1065}{1286}
\tset{601}{1221}{23}{4.38}{5.8}
\TL{[root@localhost /]# lvextend -L 10G /dev/mysqlVG/mysqlLV}
\TL{  Size of logical volume mysqlVG/mysqlLV changed from 56.00 MiB (7 extents) to 10.00 GiB (1280 extents).}
\TL{  Logical volume mysqlLV successfully resized}
\bx{yb}{688}{1210}{851}{1232}\bx{yb}{780}{1235}{991}{1257}\cur{689}{1275}{695}{1279}
\tm{ig4}{600}{1295}{1060}{1473}{590}{1063}{1478}
\tset{601}{1306}{17.4}{4.98}{5.2}
\TL{[root@localhost /]# lvs}
\TL{  LV      VG      Attr       LSize  Pool Origin Data%  Meta%  Move Log Cpy%Sync Convert}
\TL{  mysqlLV mysqlVG -wi-ao---- 10.00g}
\TL{[root@localhost /]# df -h}
\TL{Filesystem            Size  Used Avail Use% Mounted on}
\TL{/dev/sda2             9.5G  3.0G  6.1G  33% /}
\TL{tmpfs                 935M     0  935M   0% /dev/shm}
\TL{/dev/sda1             190M   43M  137M  24% /boot}
\TL{/dev/mapper/mysqlVG-mysqlLV}
\TL{                       51M  906K   47M   2% /mnt}
\bx{yb}{698}{1299}{722}{1312}\bx{yb}{607}{1333}{780}{1349}\bx{yb}{600}{1432}{848}{1470}
\ann{rar}{bll}{(780,1342)}{(824,1342)}{4.9}{LV已经扩展到了10G}
\ann{rar}{bll}{(848,1456)}{(893,1456)}{4.9}{挂载分区却显示只有51M，还是原来的大小}
\global\advance\nid 1
\coordinate (s\the\nid) at (869,1455);\coordinate (k\the\nid) at (891,1392);
\node[annot,text=bll,font=\tpfont\fontsize{4.9}{7}\selectfont] (e\the\nid) at (928,1401) {这说明只扩展了物理边界，没有扩展\\逻辑边界};
\draw[rar,line width=0.7pt] (s\the\nid) -- (k\the\nid);
\draw[anno,rar] (k\the\nid) -- (e\the\nid.north west);
\end{scope}
%================ ZONE 7
\begin{scope}[zone={-0.30580pt}{-2975pt}]
\tpi{g5}{441}{537}{240}{扩展逻辑边界}
\tp{g5a}{542}{803}{18}{语法：resize2fs -p /dev/VG\_NAME/LV\_NAME}
\tpi{g5b}{538}{590}{260}{图例}
\tm{ig5}{600}{37}{1060}{200}{590}{1065}{205}
\tset{600}{52}{22.4}{5.48}{5.8}
\TL{[root@localhost /]# resize2fs -p /dev/mysqlVG/mysqlLV}
\TL{resize2fs 1.41.12 (17-May-2010)}
\TL{Filesystem at /dev/mysqlVG/mysqlLV is mounted on /mnt; on-line resizing required}
\TL{old desc_blocks = 1, new_desc_blocks = 40}
\TL{Performing an on-line resize of /dev/mysqlVG/mysqlLV to 10485760 (1k) blocks.}
\TL{The filesystem on /dev/mysqlVG/mysqlLV is now 10485760 blocks long.}
\bx{yb}{708}{41}{899}{65}\cur{710}{197}{716}{200}
\tm{ig6}{600}{217}{1062}{447}{590}{1066}{453}
\tset{600}{241}{30.7}{7.68}{8}
\TL{[root@localhost /]# df -h}
\TL{Filesystem            Size  Used Avail Use% Mounted on}
\TL{/dev/sda2             9.5G  3.0G  6.1G  33% /}
\TL{tmpfs                 935M     0  935M   0% /dev/shm}
\TL{/dev/sda1             190M   43M  137M  24% /boot}
\TL{/dev/mapper/mysqlVG-mysqlLV}
\TL{                      9.7G  2.8M  9.2G   1% /mnt}
\bx{yb}{600}{384}{983}{441}\bx{yb}{763}{409}{810}{437}\cur{755}{441}{763}{447}
\lv{b9}{333}{979}{425}{1036}{缩减逻辑卷}
\tpi{h1}{441}{490}{546}{注意}
\tp{h1a}{490}{648}{507}{1.不能在线缩减，得先卸载}
\tp{h1b}{490}{797}{547}{2.确保缩减后的空间大小，依然能存储原有的所有数据}
\tp{h1c}{490}{883}{586}{3.在缩减之前应该进行检查文件系统，以确保文件系统处于一致性状态}
\tp{h2}{441}{538}{625}{查看LV空间大小}
\tpi{h3}{441}{622}{792}{卸载、并且强行检查文件系统}
\tp{h3a}{628}{873}{664}{语法：e2fsck -f /dev/VG\_NAME/LV\_NAME}
\tpi{h3b}{624}{676}{812}{图例}
\tm{ih3}{686}{674}{1159}{912}{678}{1164}{917}
\tset{687}{692}{24.9}{5.38}{6}
\TL{[root@localhost /]# umount /mnt}
\TL{[root@localhost /]# e2fsck -f /dev/mysqlVG/mysqlLV}
\TL{e2fsck 1.41.12 (17-May-2010)}
\TL{\zz{第一步：检查}inode,\zz{块},\zz{和大小}}
\TL{\zz{第二步：检查目录结构}}
\TL{\zz{第3步：检查目录连接性}}
\TL{Pass 4: Checking reference counts}
\TL{\zz{第5步：检查簇概要信息}}
\TL{/dev/mysqlVG/mysqlLV: 11/2621440 files (9.1% non-contiguous), 337726/10485760 blocks}
\bx{yb}{793}{680}{858}{703}\bx{yb}{793}{704}{964}{731}\cur{796}{905}{802}{912}
\tpi{h4}{441}{537}{1049}{缩减逻辑边界}
\tp{h4a}{542}{770}{955}{语法：resize2fs /path/to/lv 缩减到多大}
\tpi{h4b}{538}{590}{1068}{图例}
\tm{ih4}{600}{967}{1099}{1135}{590}{1104}{1141}
\tset{601}{986}{32.4}{6.74}{7.5}
\TL{[root@localhost /]# resize2fs /dev/mysqlVG/mysqlLV 5G}
\TL{resize2fs 1.41.12 (17-May-2010)}
\TL{Resizing the filesystem on /dev/mysqlVG/mysqlLV to 5242880 (1k) blocks.}
\TL{The filesystem on /dev/mysqlVG/mysqlLV is now 5242880 blocks long.}
\bx{yb}{735}{970}{966}{1001}\bx{yb}{600}{1034}{998}{1067}\cur{737}{1131}{744}{1135}
\tpi{h5}{441}{537}{1361}{缩减物理边界}
\tp{h5a}{542}{868}{1180}{语法：lvreduce -L 缩减到多大 /dev/VG\_NAME/LV\_NAME}
\tpi{h5b}{538}{590}{1380}{图例}
\tm{ih5}{600}{1190}{1092}{1275}{590}{1096}{1280}
\tset{600}{1210}{25}{4.66}{6}
\TL{[root@localhost /]# lvextend -L 10G /dev/mysqlVG/mysqlLV}
\TL{  Size of logical volume mysqlVG/mysqlLV changed from 56.00 MiB (7 extents) to 10.00 GiB (1280 extents).}
\TL{  Logical volume mysqlLV successfully resized}
\bx{yb}{695}{1199}{868}{1220}\bx{yb}{792}{1225}{1017}{1247}\cur{695}{1270}{700}{1275}
\tm{ih6}{600}{1291}{1092}{1535}{590}{1096}{1541}
\tset{600}{1307}{23.7}{5.4}{5.8}
\TL{[root@localhost /]# lvs}
\TL{  LV      VG      Attr       LSize  Pool Origin Data%  Meta%  Move Log Cpy%Sync Convert}
\TL{  mysqlLV mysqlVG -wi-ao---- 10.00g}
\TL{[root@localhost /]# df -h}
\TL{Filesystem            Size  Used Avail Use% Mounted on}
\TL{/dev/sda2             9.5G  3.0G  6.1G  33% /}
\TL{tmpfs                 935M     0  935M   0% /dev/shm}
\TL{/dev/sda1             190M   43M  137M  24% /boot}
\TL{/dev/mapper/mysqlVG-mysqlLV}
\TL{                       51M  906K   47M   2% /mnt}
\bx{yb}{705}{1298}{730}{1313}\bx{yb}{608}{1344}{792}{1367}\bx{yb}{600}{1483}{867}{1532}
\ann{rar}{bll}{(792,1355)}{(840,1358)}{5}{LV已经扩展到了10G}
\ann{rar}{bll}{(867,1513)}{(915,1511)}{5}{挂载分区却显示只有51M，还是原来的大小}
\global\advance\nid 1
\coordinate (s\the\nid) at (888,1511);\coordinate (k\the\nid) at (915,1428);
\node[annot,text=bll,font=\tpfont\fontsize{5}{7}\selectfont] (e\the\nid) at (950,1437) {这说明只扩展了物理边界，没有扩展\\逻辑边界};
\draw[rar,line width=0.7pt] (s\the\nid) -- (k\the\nid);
\draw[anno,rar] (k\the\nid) -- (e\the\nid.north west);
\end{scope}
%================ LINKS
\lkr{b1}\lkr{b2}\lkr{b3}\lkr{b4}\lkr{b5}\lkr{b6}\lkr{b7}\lkr{b8}\lkr{b9}
\lk{b1}{a1}\ch{a1}{a1b}\lk{a1b}{i1}\lk{a1b}{i2}\lk{a1b}{i3}\lk{a1b}{i4}\lk{a1b}{i5}
\lk{b1}{a2}\lk{a2}{a2a}\lk{a2}{a2b}\lk{a2b}{i6}
\lk{b1}{a3}\lk{b1}{a4}\lk{b1}{a5}\lk{b1}{a6}
\lk{a3}{p1}\ch{p1}{p1a}\ch{p1a}{p1b}\lk{p1b}{ip1}
\lk{a3}{p2}\ch{p2}{p2a}\ch{p2a}{p2b}\lk{p2b}{ip2}
\lk{a3}{p3}\ch{p3}{p3a}\ch{p3a}{p3b}\lk{p3b}{ip3}
\lk{a3}{p4}\lk{a3}{p5}
\lk{p4}{d1}\lk{d1}{d1a}\lk{p4}{d2}\ch{d2}{d2a}
\lk{p4}{d3}\ch{d3}{d3b}\lk{d3b}{id3}
\lk{p4}{d4}\lk{d4}{d4a}\lk{d4a}{d4b}\lk{d4a}{d4c}\lk{d4c}{id4}
\lk{p4}{d5}\ch{d5}{d5a}\lk{d5a}{d5b}\lk{d5a}{d5c}\lk{d5c}{id5}
\lk{p4}{d6}\ch{d6}{d6a}\ch{d6a}{d6b}\lk{d6b}{id6}
\lk{p4}{d7}\ch{d7}{d7a}\ch{d7a}{d7b}\lk{d7b}{id7}
\lk{p4}{d8}\ch{d8}{d8a}\lk{d8a}{d8b}\lk{d8a}{d8c}\lk{d8c}{id8}
\lk{p4}{d9}\ch{d9}{d9a}\ch{d9a}{d9b}\lk{d9b}{id9}
\lk{p5}{e1}\ch{e1}{e1a}\lk{p5}{e2}\ch{e2}{e2a}\lk{p5}{e3}\ch{e3}{e3a}
\lk{p5}{e4}\ch{e4}{e4a}\lk{e4a}{e4b}\lk{e4a}{e4c}\lk{e4c}{ie4}
\lk{p5}{e5}\ch{e5}{e5a}\ch{e5a}{e5b}\lk{e5b}{ie5}
\lk{a4}{v1}\lk{v1}{v1a}\lk{v1}{v1b}\lk{v1b}{iv1}
\lk{a4}{v2}\lk{v2}{v2a}\lk{v2}{v2b}\lk{v2b}{iv2}
\lk{a4}{v3}\lk{v3}{v3a}\lk{v3}{v3b}\lk{v3b}{iv3}
\lk{a5}{l1}\lk{l1}{l1a}\lk{l1}{l1b}\lk{l1b}{il1}
\lk{a5}{l2}\lk{l2}{l2a}\lk{l2}{l2b}\lk{l2b}{il2}
\lk{a5}{l3}\lk{l3}{l3a}\lk{l3}{l3b}\lk{l3b}{il3}
\ch{a6}{a6a}\lk{a6a}{a6b}\lk{a6a}{a6c}
\lk{b2}{s1}\lk{b2}{s2}\lk{b2}{s3}\lk{b2}{s4}\lk{b2}{s5}\lk{b2}{s6}\lk{b2}{s7}\lk{b2}{s8}\lk{b2}{s9}
\lk{b3}{t1}\ch{t1}{t1a}\lk{b3}{t2}\ch{t2}{t2a}\lk{b3}{t3}\lk{t3}{t3a}\ch{t3a}{t3b}\lk{t3}{t3c}\ch{t3c}{t3d}\lk{b3}{t4}\ch{t4}{t4a}
\lk{b4}{u1}\lk{u1}{u1a}\lk{u1}{u1b}\lk{u1}{u1c}
\lk{b4}{u2}\lk{u2}{u2a}\ch{u2a}{u2b}\lk{u2}{u2c}\lk{u2c}{u2d}\lk{u2c}{u2e}
\lk{b4}{u3}\lk{u3}{u3a}\lk{u3}{u3b}
\lk{b5}{w1}\ch{w1}{w1a}\lk{b5}{w2}\ch{w2}{w2a}\lk{b5}{w3}\ch{w3}{w3a}\lk{b5}{w4}\ch{w4}{w4a}\lk{b5}{w5}\ch{w5}{w5a}\lk{b5}{w6}\ch{w6}{w6a}
\lk{b6}{x1}\lk{b6}{x2}\lk{b6}{x3}
\lk{b7}{y1}\lk{y1}{y1a}\ch{y1a}{y1b}\lk{y1}{y1c}\ch{y1c}{y1d}\lk{y1}{y1e}
\lk{b7}{y2}\ch{y2}{y2a}\lk{b7}{y3}
\lk{b8}{g1}\lk{b8}{g2}\lk{g2}{g2a}\lk{g2}{g2b}\lk{g2}{g2c}
\lk{b8}{g3}\lk{g3}{g3a}\lk{g3}{g3b}\lk{g3b}{ig3}\lk{g3b}{ig4}
\lk{b8}{g5}\lk{g5}{g5a}\lk{g5}{g5b}\lk{g5b}{ig5}\lk{g5b}{ig6}
\lk{b9}{h1}\lk{h1}{h1a}\lk{h1}{h1b}\lk{h1}{h1c}\lk{b9}{h2}
\lk{b9}{h3}\lk{h3}{h3a}\lk{h3}{h3b}\lk{h3b}{ih3}
\lk{b9}{h4}\lk{h4}{h4a}\lk{h4}{h4b}\lk{h4b}{ih4}
\lk{b9}{h5}\lk{h5}{h5a}\lk{h5}{h5b}\lk{h5b}{ih5}\lk{h5b}{ih6}
\end{tikzpicture}
\end{document}
